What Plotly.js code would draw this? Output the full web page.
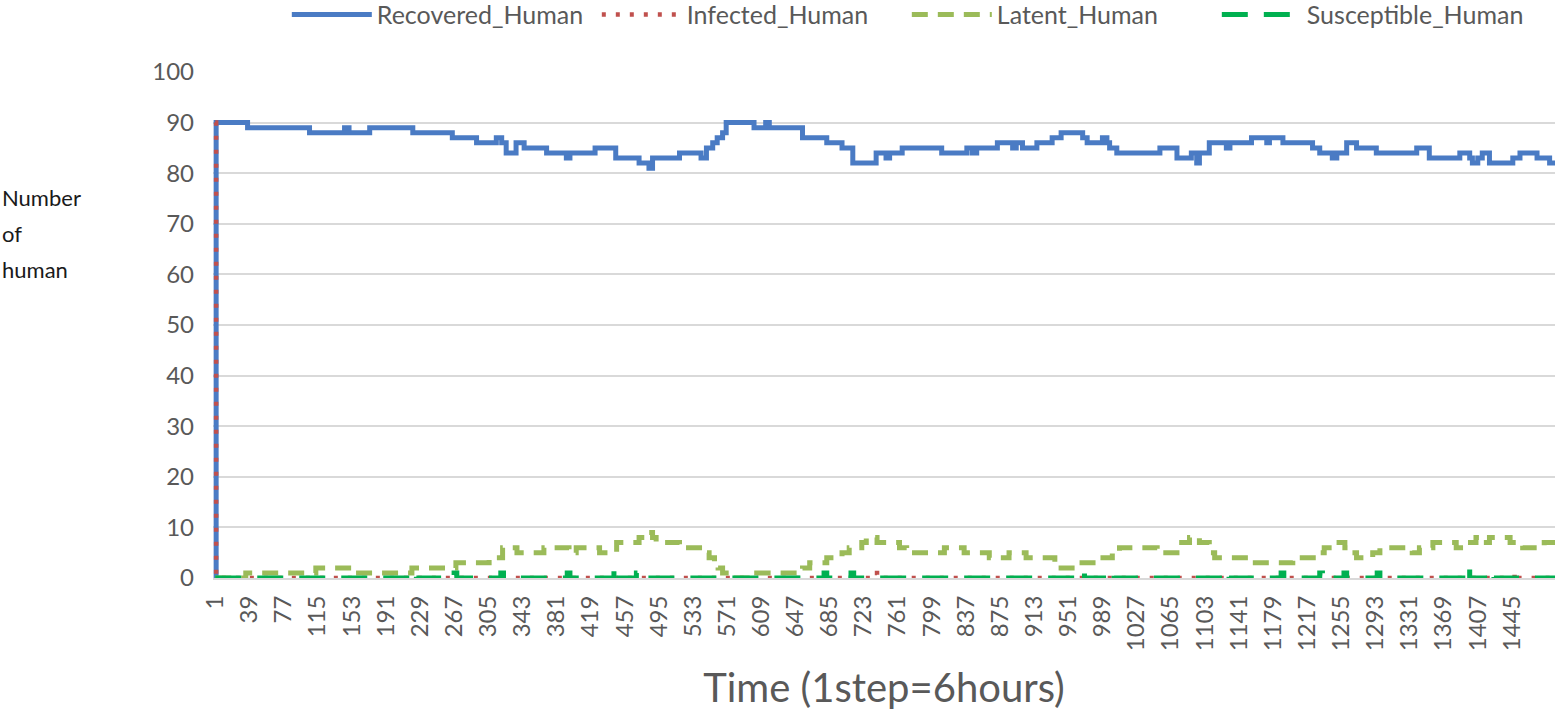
<!DOCTYPE html>
<html>
<head>
<meta charset="utf-8">
<script src="https://cdn.plot.ly/plotly-3.0.1.min.js"></script>
<style>
  html, body { margin: 0; padding: 0; background: #ffffff; }
  #chart { width: 1555px; height: 713px; }
</style>
</head>
<body>
<div id="chart"></div>
<script>
/* Human compartments over simulation time (1 step = 6 hours).
   Each series is kept as the steps where its value changes, drawn as a step line. */

var LAST_STEP = 1493;

var tickSteps = [1, 39, 77, 115, 153, 191, 229, 267, 305, 343, 381, 419, 457, 495, 533,
  571, 609, 647, 685, 723, 761, 799, 837, 875, 913, 951, 989, 1027, 1065, 1103, 1141,
  1179, 1217, 1255, 1293, 1331, 1369, 1407, 1445];

var recoveredSteps = [1, 2, 37, 106, 145, 150, 173, 221, 265, 292, 314, 320, 325, 336, 345,
  370, 392, 396, 424, 447, 473, 484, 488, 518, 542, 548, 555, 560, 566, 570, 601, 614, 618,
  655, 682, 699, 711, 737, 748, 752, 766, 810, 838, 844, 849, 872, 889, 893, 900, 916, 933,
  943, 967, 972, 989, 994, 997, 1005, 1053, 1072, 1088, 1094, 1097, 1108, 1127, 1131, 1155,
  1172, 1175, 1190, 1223, 1231, 1245, 1250, 1261, 1272, 1294, 1339, 1353, 1387, 1398, 1401,
  1407, 1412, 1420, 1446, 1454, 1473, 1487];
var recoveredValues = [0, 90, 89, 88, 89, 88, 89, 88, 87, 86, 87, 86, 84, 86, 85,
  84, 83, 84, 85, 83, 82, 81, 83, 84, 83, 85, 86, 87, 88, 90, 89, 90, 89,
  87, 86, 85, 82, 84, 83, 84, 85, 84, 85, 84, 85, 86, 85, 86, 85, 86, 87,
  88, 87, 86, 87, 86, 85, 84, 85, 83, 84, 82, 84, 86, 85, 86, 87,
  86, 87, 86, 85, 84, 83, 84, 86, 85, 84, 85, 83, 84, 83, 82,
  83, 84, 82, 83, 84, 83, 82];

var infectedSteps = [1, 2, 735, 738, 1448, 1451];
var infectedValues = [90, 0, 1, 0, 1, 0];

var latentSteps = [1, 35, 113, 153, 220, 269, 306, 321, 337, 367, 395, 403, 429, 448, 473,
  479, 488, 492, 518, 546, 551, 557, 561, 566, 570, 604, 655, 663, 682, 699, 707, 721, 726,
  738, 763, 771, 813, 835, 863, 885, 904, 936, 961, 986, 1000, 1008, 1050, 1072, 1086, 1097,
  1108, 1114, 1153, 1201, 1231, 1236, 1248, 1259, 1265, 1272, 1290, 1298, 1334, 1342, 1357,
  1383, 1392, 1405, 1413, 1420, 1443, 1457, 1481];
var latentValues = [0, 1, 2, 1, 2, 3, 4, 6, 5, 6, 5, 6, 5, 7, 8,
  9, 8, 7, 6, 5, 4, 3, 2, 1, 0, 1, 2, 3, 4, 5, 6, 7, 8,
  7, 6, 5, 6, 5, 4, 5, 4, 2, 3, 4, 5, 6, 5, 7, 8, 7,
  5, 4, 3, 4, 5, 6, 7, 6, 5, 4, 5, 6, 5, 6, 7,
  6, 7, 8, 7, 8, 7, 6, 7];

var susceptibleSteps = [1, 222, 225, 267, 270, 319, 322, 393, 396, 445, 448, 470, 473, 679,
  682, 709, 712, 966, 969, 999, 1002, 1127, 1130, 1188, 1191, 1231, 1234, 1258, 1261, 1295,
  1298, 1395, 1398, 1422, 1425];
var susceptibleValues = [0, 1, 0, 1, 0, 1, 0, 1, 0, 2, 0, 1, 0, 1,
  0, 1, 0, 1, 0, 1, 0, 1, 0, 1, 0, 1, 0, 1, 0, 1,
  0, 2, 0, 1, 0];

var FONT = "Lato, 'Open Sans', sans-serif";
var TICK_GREY = "#595959";
var GRID = "#D9D9D9";

// carry the last value to the right edge of the axis
function toEnd(steps, values) {
  return {
    x: steps.concat([LAST_STEP]),
    y: values.concat([values[values.length - 1]])
  };
}

function stepTrace(name, steps, values, line) {
  var d = toEnd(steps, values);
  line.shape = "hv";
  return {
    type: "scatter",
    mode: "lines",
    name: name,
    x: d.x,
    y: d.y,
    line: line,
    hoverinfo: "skip"
  };
}

var traces = [
  stepTrace("Recovered_Human", recoveredSteps, recoveredValues,
    { color: "#4A7BC4", width: 5 }),
  stepTrace("Infected_Human", infectedSteps, infectedValues,
    { color: "#C0504D", width: 4.5, dash: "4px,10px" }),
  stepTrace("Latent_Human", latentSteps, latentValues,
    { color: "#9BBB59", width: 5, dash: "16px,10px" }),
  stepTrace("Susceptible_Human", susceptibleSteps, susceptibleValues,
    { color: "#00B050", width: 5, dash: "26px,16px" })
];

var yLabelLines = ["Number", "of", "human"];
var annotations = yLabelLines.map(function (txt, i) {
  return {
    xref: "paper", yref: "paper",
    x: -0.1587, xanchor: "left",
    y: 0.751 - i * 0.071, yanchor: "middle",
    text: txt, showarrow: false,
    font: { family: FONT, size: 22, color: "#1a1a1a" }
  };
});

var layout = {
  width: 1555,
  height: 713,
  autosize: false,
  paper_bgcolor: "#ffffff",
  plot_bgcolor: "#ffffff",
  margin: { l: 213, r: 0, t: 72, b: 134.5, pad: 0, autoexpand: false },
  font: { family: FONT, color: TICK_GREY, size: 24 },
  showlegend: true,
  legend: {
    orientation: "h",
    x: 0.055, xanchor: "left",
    y: 1.113, yanchor: "middle",
    font: { family: FONT, size: 25, color: TICK_GREY },
    itemwidth: 80,
    entrywidth: 215,
    bgcolor: "rgba(0,0,0,0)"
  },
  xaxis: {
    type: "linear",
    range: [-1.5, LAST_STEP],
    tickmode: "array",
    tickvals: tickSteps,
    ticktext: tickSteps.map(String),
    tickangle: -90,
    tickfont: { family: FONT, size: 24, color: TICK_GREY },
    ticks: "",
    showgrid: false,
    zeroline: false,
    showline: true,
    linecolor: GRID,
    linewidth: 2,
    ticklabelstandoff: 6,
    title: { text: "Time (1step=6hours)", font: { family: FONT, size: 40, color: TICK_GREY }, standoff: 24 }
  },
  yaxis: {
    range: [0, 100],
    tickmode: "linear",
    tick0: 0,
    dtick: 10,
    tickfont: { family: FONT, size: 24, color: TICK_GREY },
    ticks: "",
    showgrid: true,
    gridcolor: GRID,
    gridwidth: 2,
    zeroline: false,
    showline: false,
    ticklabelstandoff: 18
  },
  annotations: annotations
};

Plotly.newPlot("chart", traces, layout, { displayModeBar: false, staticPlot: true });
</script>
</body>
</html>
